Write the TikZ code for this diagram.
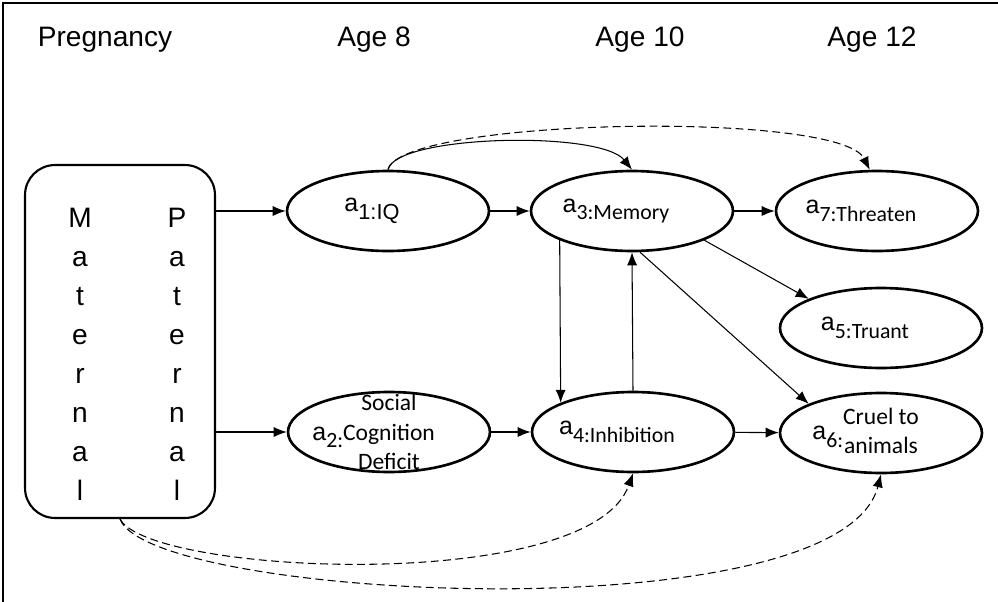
\documentclass[tikz,border=0pt]{standalone}
\usepackage{fontspec}
\setmainfont{Liberation Sans}
\newfontfamily\calibfont{Carlito}
\usetikzlibrary{shapes.geometric}
\usetikzlibrary{arrows.meta}

\newcommand{\avar}[2]{{\rmfamily\fontsize{14.2}{17}\selectfont a}\raisebox{-4.5pt}{\fontsize{12.4}{14}\selectfont\rmfamily#1\calibfont#2}}

\begin{document}
\begin{tikzpicture}[x=0.02cm, y=-0.02cm,
            arr/.style = {-{Latex[length=7.4pt,width=5.8pt]}, line width=0.6pt},
            indirect/.style = {dash pattern=on 4.5pt off 2.5pt},
            var/.style = {draw, ellipse, line width=1.5pt, minimum width=4.04cm,
                minimum height=1.6cm, inner xsep=-1cm, inner ysep=-1cm,
                font=\fontsize{14.2}{17}\selectfont},
            leftvar/.style = {var, execute at end node={\hspace*{0.64cm}}},
            multivar/.style = {var, align=center,
                font=\calibfont\fontsize{13.4}{16.8}\selectfont},
            period/.style = {font=\fontsize{16}{19}\selectfont},
            parentbox/.style = {draw, rounded corners=0.6cm, line width=1.2pt,
                minimum width=3.8cm, minimum height=7.06cm},
            letters/.style = {align=center, font=\fontsize{16}{22.2}\selectfont}]
    \useasboundingbox (0,0) rectangle (998,602);
    \draw[line width=1.2pt] (3,602) -- (3,3) -- (998,3);

    \node[period] (pregnancy) at (105,40) {Pregnancy};
    \node[period] (age8) at (374,40) {Age 8};
    \node[period] (age10) at (640,40) {Age 10};
    \node[period] (age12) at (872,40) {Age 12};

    \node[parentbox] (parents) at (120,341.5) {};
    \node[letters] (maternal) at (80,354.5) {M\\a\\t\\e\\r\\n\\a\\l};
    \node[letters] (paternal) at (177,354.5) {P\\a\\t\\e\\r\\n\\a\\l};

    \node[leftvar] (a1) at (388,211) {\avar{1:IQ}{}};
    \node[leftvar] (a3) at (632,211) {\avar{}{3:Memory}};
    \node[leftvar] (a7) at (877,211) {\avar{}{7:Threaten}};
    \node[leftvar] (a5) at (881,328) {\avar{}{5:Truant}};
    \node[multivar] (a2) at (389,432) {Social\\\llap{\avar{}{2:}}Cognition\\Deficit};
    \node[leftvar] (a4) at (633,432) {\avar{}{4:Inhibition}};
    \node[multivar] (a6) at (881,433) {\llap{\avar{}{6:}}\begin{tabular}{@{}c@{}}Cruel to\\animals\end{tabular}};

    \draw[arr] (parents.east |- a1.west) -- (a1.west);
    \draw[arr] (parents.east |- a2.west) -- (a2.west);
    \draw[arr] (a1) -- (a3);
    \draw[arr] (a3) -- (a7);
    \draw[arr] (a2) -- (a4);
    \draw[arr] (a4) -- (a6);
    \draw[arr] (a3.-22) -- (a5.158);
    \draw[arr] (a3.-79) -- (a6.158);
    \draw[arr] (a3.202) -- (a4.158);
    \draw[arr] (a4.north) -- (a3.south);
    \draw[arr] (a1.north) .. controls (395,135) and (600,130) .. (a3.north);
    \draw[arr, indirect] (a1.north) .. controls (400,118) and (840,110) .. (a7.100);
    \draw[arr, indirect] (parents.south) .. controls (150,575) and (590,595) .. (a4.south);
    \draw[arr, indirect] (parents.south) .. controls (150,600) and (840,635) .. (a6.south);
\end{tikzpicture}
\end{document}
